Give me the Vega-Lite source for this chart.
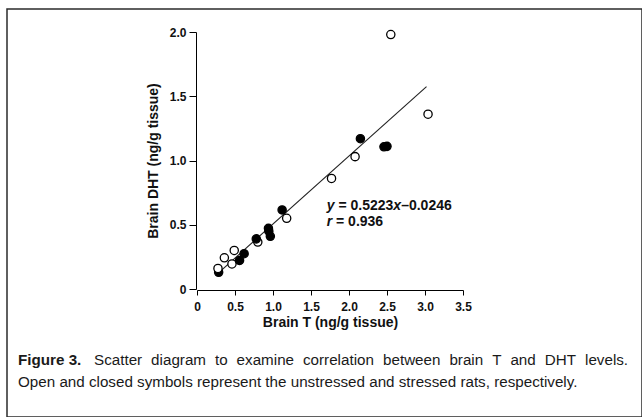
{
  "$schema": "https://vega.github.io/schema/vega-lite/v6.json",
  "autosize": "none",
  "width": 635,
  "height": 408,
  "padding": {"left": 7, "top": 9, "right": 0, "bottom": 0},
  "background": "white",
  "config": {
    "view": {"stroke": "#2b2b2b", "strokeWidth": 1.5},
    "axis": {"grid": false},
    "text": {"font": "Liberation Sans", "fontSize": 15.2, "align": "left", "baseline": "alphabetic", "color": "#1a1a1a"}
  },
  "datasets": {
    "points": [
      {"T": 2.55, "DHT": 1.98, "group": "unstressed"},
      {"T": 3.04, "DHT": 1.36, "group": "unstressed"},
      {"T": 2.08, "DHT": 1.03, "group": "unstressed"},
      {"T": 1.77, "DHT": 0.86, "group": "unstressed"},
      {"T": 1.18, "DHT": 0.55, "group": "unstressed"},
      {"T": 0.80, "DHT": 0.365, "group": "unstressed"},
      {"T": 0.49, "DHT": 0.30, "group": "unstressed"},
      {"T": 0.36, "DHT": 0.243, "group": "unstressed"},
      {"T": 0.46, "DHT": 0.195, "group": "unstressed"},
      {"T": 0.285, "DHT": 0.13, "group": "stressed"},
      {"T": 0.276, "DHT": 0.16, "group": "unstressed"},
      {"T": 2.15, "DHT": 1.17, "group": "stressed"},
      {"T": 2.46, "DHT": 1.107, "group": "stressed"},
      {"T": 2.50, "DHT": 1.11, "group": "stressed"},
      {"T": 1.12, "DHT": 0.615, "group": "stressed"},
      {"T": 0.94, "DHT": 0.472, "group": "stressed"},
      {"T": 0.945, "DHT": 0.45, "group": "stressed"},
      {"T": 0.965, "DHT": 0.41, "group": "stressed"},
      {"T": 0.78, "DHT": 0.39, "group": "stressed"},
      {"T": 0.62, "DHT": 0.275, "group": "stressed"},
      {"T": 0.56, "DHT": 0.222, "group": "stressed"}
    ],
    "fit": [
      {"T": 0.25, "DHT": 0.108},
      {"T": 3.02, "DHT": 1.575}
    ]
  },
  "layer": [
    {
      "data": {"name": "fit"},
      "mark": {"type": "line", "color": "#222222", "strokeWidth": 1.1},
      "encoding": {
        "x": {"field": "T", "type": "quantitative"},
        "y": {"field": "DHT", "type": "quantitative"}
      }
    },
    {
      "data": {"name": "points"},
      "mark": {"type": "circle", "size": 68, "stroke": "black", "strokeWidth": 1.3, "opacity": 1},
      "encoding": {
        "x": {
          "field": "T", "type": "quantitative",
          "scale": {"domain": [0, 3.5], "range": [190, 456], "nice": false, "zero": false},
          "axis": {
            "values": [0, 0.5, 1, 1.5, 2, 2.5, 3, 3.5],
            "labelExpr": "datum.value == 0 ? '0' : format(datum.value, '.1f')",
            "title": "Brain T (ng/g tissue)",
            "offset": -127,
            "domainColor": "black", "domainWidth": 1,
            "tickColor": "black", "tickSize": 5, "tickWidth": 1,
            "labelFont": "Liberation Sans", "labelFontWeight": "bold", "labelFontSize": 12,
            "labelColor": "#111111", "labelPadding": 6, "labelFlush": false, "labelOverlap": false,
            "titleFont": "Liberation Sans", "titleFontWeight": "bold", "titleFontSize": 14,
            "titleColor": "#111111", "titlePadding": 3
          }
        },
        "y": {
          "field": "DHT", "type": "quantitative",
          "scale": {"domain": [0, 2], "range": [280, 23], "nice": false, "zero": false},
          "axis": {
            "values": [0, 0.5, 1, 1.5, 2],
            "labelExpr": "datum.value == 0 ? '0' : format(datum.value, '.1f')",
            "title": "Brain DHT (ng/g tissue)",
            "offset": -189,
            "domainColor": "black", "domainWidth": 1,
            "tickColor": "black", "tickSize": 7, "tickWidth": 1,
            "labelFont": "Liberation Sans", "labelFontWeight": "bold", "labelFontSize": 12,
            "labelColor": "#111111", "labelPadding": 3, "labelOverlap": false,
            "titleFont": "Liberation Sans", "titleFontWeight": "bold", "titleFontSize": 14,
            "titleColor": "#111111", "titlePadding": 9
          }
        },
        "fill": {
          "field": "group", "type": "nominal",
          "scale": {"domain": ["unstressed", "stressed"], "range": ["white", "black"]},
          "legend": null
        }
      }
    },
    {
      "data": {"values": [{}]},
      "encoding": {"x": {"datum": 1.707, "type": "quantitative"}, "y": {"datum": 0.612, "type": "quantitative"}},
      "layer": [
        {"mark": {"type": "text", "text": "y", "fontSize": 14, "fontWeight": "bold", "fontStyle": "italic", "color": "#111111"}},
        {"mark": {"type": "text", "text": "= 0.5223", "dx": 11.7, "fontSize": 14, "fontWeight": "bold", "color": "#111111"}},
        {"mark": {"type": "text", "text": "x", "dx": 66.6, "fontSize": 14, "fontWeight": "bold", "fontStyle": "italic", "color": "#111111"}},
        {"mark": {"type": "text", "text": "–0.0246", "dx": 74.4, "fontSize": 14, "fontWeight": "bold", "color": "#111111"}}
      ]
    },
    {
      "data": {"values": [{}]},
      "encoding": {"x": {"datum": 1.707, "type": "quantitative"}, "y": {"datum": 0.493, "type": "quantitative"}},
      "layer": [
        {"mark": {"type": "text", "text": "r", "fontSize": 14, "fontWeight": "bold", "fontStyle": "italic", "color": "#111111"}},
        {"mark": {"type": "text", "text": "= 0.936", "dx": 9.3, "fontSize": 14, "fontWeight": "bold", "color": "#111111"}}
      ]
    },
    {
      "data": {"values": [{}]},
      "encoding": {"x": {"datum": -2.355, "type": "quantitative"}, "y": {"datum": -0.591, "type": "quantitative"}},
      "layer": [
        {"mark": {"type": "text", "text": "Figure 3.", "fontWeight": "bold"}},
        {"mark": {"type": "text", "text": "Scatter", "dx": 76}},
        {"mark": {"type": "text", "text": "diagram", "dx": 133.1}},
        {"mark": {"type": "text", "text": "to", "dx": 197.0}},
        {"mark": {"type": "text", "text": "examine", "dx": 218.6}},
        {"mark": {"type": "text", "text": "correlation", "dx": 285.0}},
        {"mark": {"type": "text", "text": "between", "dx": 365.0}},
        {"mark": {"type": "text", "text": "brain", "dx": 431.4}},
        {"mark": {"type": "text", "text": "T", "dx": 474.2}},
        {"mark": {"type": "text", "text": "and", "dx": 492.4}},
        {"mark": {"type": "text", "text": "DHT", "dx": 526.8}},
        {"mark": {"type": "text", "text": "levels.", "dx": 567.0}}
      ]
    },
    {
      "data": {"values": [{}]},
      "mark": {"type": "text", "text": "Open and closed symbols represent the unstressed and stressed rats, respectively."},
      "encoding": {"x": {"datum": -2.355, "type": "quantitative"}, "y": {"datum": -0.763, "type": "quantitative"}}
    }
  ]
}
